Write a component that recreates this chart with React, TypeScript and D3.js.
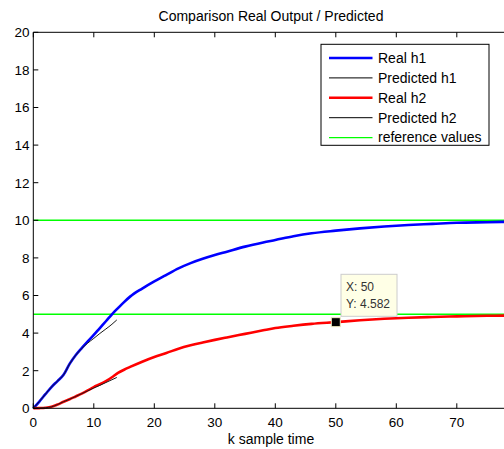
import React from "react";
import * as d3 from "d3";

const W = 504;
const H = 449;

const kReal = [0, 1, 2, 3, 4, 5, 6, 7, 8, 9, 10, 11, 12, 13, 14, 15, 16, 18, 20, 22, 24, 26, 28, 30, 32, 35, 38, 40, 43, 46, 50, 54, 58, 62, 66, 70, 75, 80];
const realH1 = [0, 0.36, 0.75, 1.13, 1.45, 1.78, 2.36, 2.82, 3.2, 3.56, 3.9, 4.27, 4.63, 5.0, 5.33, 5.65, 5.94, 6.37, 6.75, 7.1, 7.44, 7.72, 7.95, 8.15, 8.33, 8.6, 8.82, 8.95, 9.15, 9.31, 9.45, 9.57, 9.67, 9.75, 9.81, 9.87, 9.9, 9.93];
const realH2 = [0, 0.01, 0.03, 0.08, 0.2, 0.35, 0.48, 0.63, 0.78, 0.95, 1.13, 1.28, 1.45, 1.65, 1.88, 2.05, 2.2, 2.48, 2.73, 2.94, 3.17, 3.35, 3.5, 3.64, 3.77, 3.96, 4.15, 4.27, 4.39, 4.49, 4.582, 4.68, 4.76, 4.82, 4.86, 4.89, 4.92, 4.94];

const kPred = [0, 1, 2, 3, 4, 5, 6, 7, 8, 9, 10, 11, 12, 13, 13.8];
const predH1 = [0, 0.36, 0.75, 1.13, 1.45, 1.78, 2.36, 2.82, 3.18, 3.47, 3.72, 3.98, 4.22, 4.47, 4.7];
const predH2 = [0, 0.01, 0.03, 0.08, 0.2, 0.35, 0.48, 0.63, 0.78, 0.93, 1.08, 1.22, 1.37, 1.52, 1.64];

const refValues = [10, 5];
const xTicks = [0, 10, 20, 30, 40, 50, 60, 70];
const yTicks = [0, 2, 4, 6, 8, 10, 12, 14, 16, 18, 20];

const legendLabels = ["Real h1", "Predicted h1", "Real h2", "Predicted h2", "reference values"];
const legendColors = ["#0000ff", "#000000", "#ff0000", "#000000", "#00ff00"];
const legendWidths = [2.6, 1, 2.6, 1, 1.4];

const tipX = 50;
const tipY = 4.582;

const FONT = "Arial, 'Liberation Sans', Helvetica, sans-serif";

export default function App() {
  const x = d3.scaleLinear().domain([0, 79]).range([33.3, 33.3 + 79 * 6.05]);
  const y = d3.scaleLinear().domain([0, 20]).range([408.3, 32.3]);

  const line = (ks: number[], vs: number[]) =>
    d3
      .line<number>()
      .x((_, i) => x(ks[i]))
      .y((v) => y(v))
      .curve(d3.curveMonotoneX)(vs) || "";

  const x0 = x(0);
  const xEnd = W + 10;
  const yTop = y(20);
  const yBot = y(0);

  const legX = 321;
  const legY = 44.3;
  const legW = 168;
  const legH = 101;
  const rowY = (i: number) => 58 + i * 19.9;

  const mx = x(tipX);
  const my = y(tipY);

  return (
    <div style={{ position: "absolute", left: 0, top: 0, width: W, height: H, overflow: "hidden" }}>
      <svg width={W} height={H} style={{ display: "block", background: "#fff" }} fontFamily={FONT}>
        <rect x={0} y={0} width={W} height={H} fill="#fff" />
        <text x={271} y={20.5} textAnchor="middle" fontSize={14} fill="#000">
          Comparison Real Output / Predicted
        </text>

        {refValues.map((r) => (
          <line key={r} x1={x0} x2={xEnd} y1={y(r)} y2={y(r)} stroke="#00ff00" strokeWidth={1.4} />
        ))}

        <path d={line(kReal, realH1)} fill="none" stroke="#0000ff" strokeWidth={2.6} />
        <path d={line(kReal, realH2)} fill="none" stroke="#ff0000" strokeWidth={2.6} />
        <path d={line(kPred, predH1)} fill="none" stroke="#1a1a1a" strokeWidth={1} />
        <path d={line(kPred, predH2)} fill="none" stroke="#1a1a1a" strokeWidth={1} />

        {/* axes */}
        <line x1={x0} x2={xEnd} y1={yTop} y2={yTop} stroke="#000" strokeWidth={1} />
        <line x1={x0} x2={xEnd} y1={yBot} y2={yBot} stroke="#000" strokeWidth={1} />
        <line x1={x0} x2={x0} y1={yTop} y2={yBot} stroke="#000" strokeWidth={1} />

        {xTicks.map((t) => (
          <g key={"x" + t}>
            <line x1={x(t)} x2={x(t)} y1={yBot} y2={yBot - 5} stroke="#000" />
            <line x1={x(t)} x2={x(t)} y1={yTop} y2={yTop + 5} stroke="#000" />
            <text x={x(t)} y={427} textAnchor="middle" fontSize={13.5} fill="#000">
              {t}
            </text>
          </g>
        ))}
        {yTicks.map((t) => (
          <g key={"y" + t}>
            <line x1={x0} x2={x0 + 5} y1={y(t)} y2={y(t)} stroke="#000" />
            <text x={29.5} y={y(t) + 4.8} textAnchor="end" fontSize={13.5} fill="#000">
              {t}
            </text>
          </g>
        ))}

        <text x={271} y={443.5} textAnchor="middle" fontSize={14} fill="#000">
          k sample time
        </text>

        {/* legend */}
        <rect x={legX} y={legY} width={legW} height={legH} fill="#fff" stroke="#000" strokeWidth={1} />
        {legendLabels.map((lab, i) => (
          <g key={lab}>
            <line x1={329} x2={372.5} y1={rowY(i)} y2={rowY(i)} stroke={legendColors[i]} strokeWidth={legendWidths[i]} />
            <text x={378} y={rowY(i) + 4.8} fontSize={14} fill="#000">
              {lab}
            </text>
          </g>
        ))}

        {/* data tip */}
        <rect x={mx - 4.5} y={my - 4.5} width={9} height={9} fill="#000" stroke="#f0ecc0" strokeWidth={1} />
        <rect x={341} y={274.3} width={56} height={42} fill="#ffffe6" stroke="#cccccc" strokeWidth={1} />
        <text x={346} y={291} fontSize={12} fill="#333">
          {"X: " + tipX}
        </text>
        <text x={346} y={308} fontSize={12} fill="#333">
          {"Y: " + tipY}
        </text>
      </svg>
    </div>
  );
}
